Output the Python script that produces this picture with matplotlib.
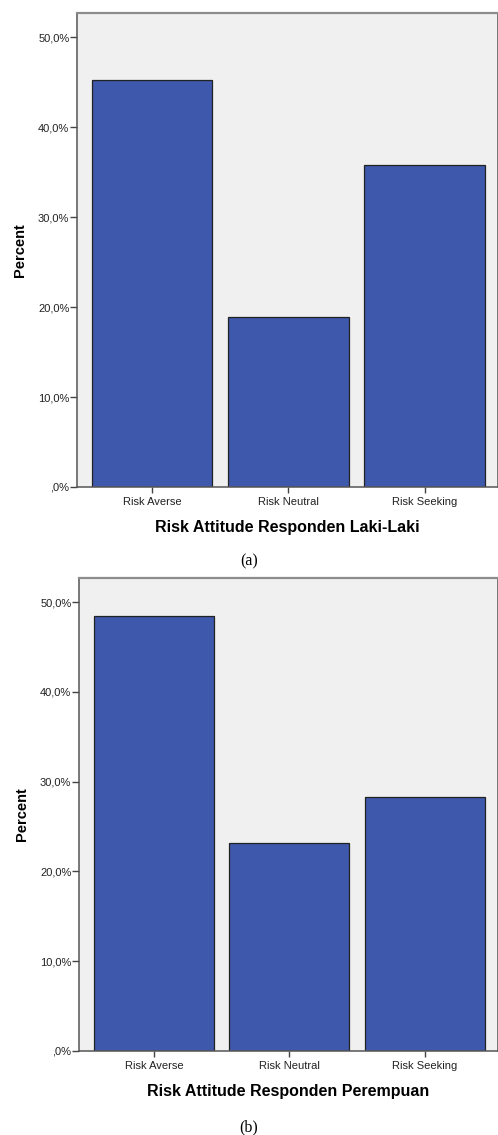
import matplotlib
matplotlib.use("Agg")
import matplotlib.pyplot as plt
from matplotlib.ticker import FuncFormatter

categories = ["Risk Averse", "Risk Neutral", "Risk Seeking"]
male_pct = [45.3, 18.9, 35.8]
female_pct = [48.5, 23.2, 28.3]
yticks = [0, 10, 20, 30, 40, 50]
xlabels = ["Risk Attitude Responden Laki-Laki", "Risk Attitude Responden Perempuan"]
captions = ["(a)", "(b)"]

W, H = 498, 1135
fig = plt.figure(figsize=(W / 100, H / 100), dpi=100)
fig.patch.set_facecolor("white")

def fmt(v, pos):
    if v == 0:
        return ",0%"
    return f"{v:.1f}%".replace(".", ",")

# axes boxes in pixels: left, top, right, bottom
boxes = [(77, 13, 497.5, 487), (79, 578, 497.5, 1051)]
caption_y = [561, 1127]
datasets = [male_pct, female_pct]

for i, (box, data) in enumerate(zip(boxes, datasets)):
    l, t, r, b = box
    ax = fig.add_axes([l / W, 1 - b / H, (r - l) / W, (b - t) / H])
    ax.set_facecolor("#f0f0f0")
    x = list(range(len(categories)))
    ax.bar(x, data, width=0.885, color="#3e58ac", edgecolor="#222222", linewidth=0.9, zorder=2)
    ax.set_xlim(-0.552, 2.535)
    ax.set_ylim(0, 52.7)
    ax.set_yticks(yticks)
    ax.yaxis.set_major_formatter(FuncFormatter(fmt))
    ax.set_xticks(x)
    ax.set_xticklabels(categories, fontsize=8, family="Liberation Sans", color="#222222")
    for lab in ax.get_yticklabels():
        lab.set_fontsize(8)
        lab.set_family("Liberation Sans")
        lab.set_color("#222222")
    ax.tick_params(axis="y", length=5, width=1, color="#444444", pad=0.5)
    ax.tick_params(axis="x", length=4.5, width=1, color="#444444", pad=2.5)
    for s in ax.spines.values():
        s.set_color("#555555")
        s.set_linewidth(1.1)
    ax.spines["top"].set_color("#8c8c8c")
    ax.spines["top"].set_linewidth(1.6)
    ax.set_xlabel(xlabels[i], fontsize=11.5, fontweight="bold", family="Liberation Sans", labelpad=9.5)
    ax.set_ylabel("Percent", fontsize=10.5, fontweight="bold", family="Liberation Sans", labelpad=8)
    fig.text(0.5, 1 - caption_y[i] / H, captions[i], ha="center", va="center",
             fontsize=11.5, family="Liberation Serif")

fig.savefig("out.png", dpi=100)
